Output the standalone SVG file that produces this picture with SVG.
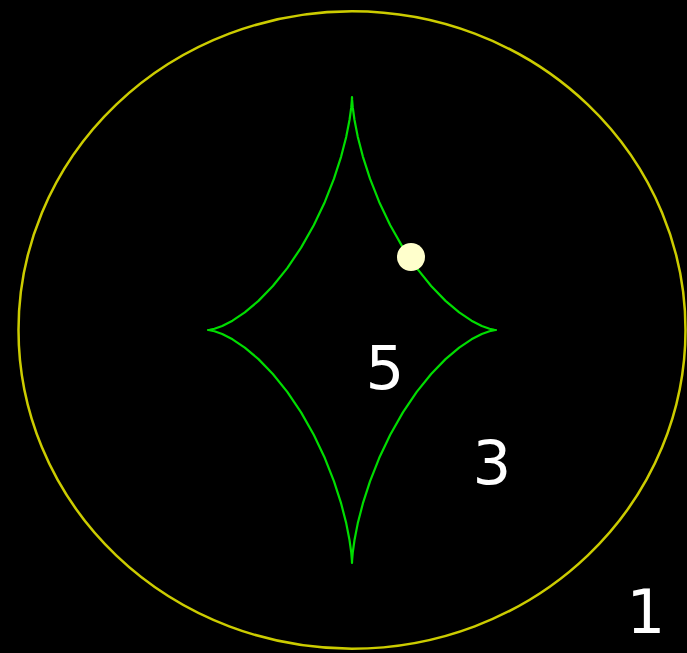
<svg xmlns="http://www.w3.org/2000/svg" width="687" height="653" viewBox="0 0 687 653">
<style>
.lbl{font-family:"DejaVu Sans",sans-serif;font-size:61px;fill:#ffffff;text-anchor:middle}
.ring{fill:none;stroke:#cccc00;stroke-width:2.5}
.curve{fill:none;stroke:#00dd00;stroke-width:2.2;stroke-linejoin:round}
</style>
<rect x="0" y="0" width="687" height="653" fill="#000000"/>
<g id="outer-circle">
<ellipse class="ring" cx="352" cy="330" rx="333.5" ry="318.7"/>
</g>
<g id="astroid" transform="translate(352,330)">
<path class="curve" d="M144,0 L142.36,-0.15 137.54,-1.22 129.78,-4.04 119.49,-9.32 107.2,-17.59 93.53,-29.13 79.15,-43.97 64.73,-61.88 50.91,-82.38 38.24,-104.74 27.17,-128.07 18,-151.34 10.87,-173.45 5.76,-193.34 2.5,-209.98 0.75,-222.54 0.1,-230.35 0,-233 -0.1,-230.35 -0.75,-222.54 -2.5,-209.98 -5.76,-193.34 -10.87,-173.45 -18,-151.34 -27.17,-128.07 -38.24,-104.74 -50.91,-82.38 -64.73,-61.88 -79.15,-43.97 -93.53,-29.13 -107.2,-17.59 -119.49,-9.32 -129.78,-4.04 -137.54,-1.22 -142.36,-0.15 -144,0 -142.36,0.15 -137.54,1.22 -129.78,4.04 -119.49,9.32 -107.2,17.59 -93.53,29.13 -79.15,43.97 -64.73,61.88 -50.91,82.38 -38.24,104.74 -27.17,128.07 -18,151.34 -10.87,173.45 -5.76,193.34 -2.5,209.98 -0.75,222.54 -0.1,230.35 0,233 0.1,230.35 0.75,222.54 2.5,209.98 5.76,193.34 10.87,173.45 18,151.34 27.17,128.07 38.24,104.74 50.91,82.38 64.73,61.88 79.15,43.97 93.53,29.13 107.2,17.59 119.49,9.32 129.78,4.04 137.54,1.22 142.36,0.15 Z"/>
</g>
<g id="point">
<circle cx="411" cy="257" r="14" fill="#ffffcc"/>
</g>
<g id="labels">
<text class="lbl" x="385" y="389">5</text>
<text class="lbl" x="492" y="484">3</text>
<text class="lbl" x="646" y="633">1</text>
</g>
</svg>
